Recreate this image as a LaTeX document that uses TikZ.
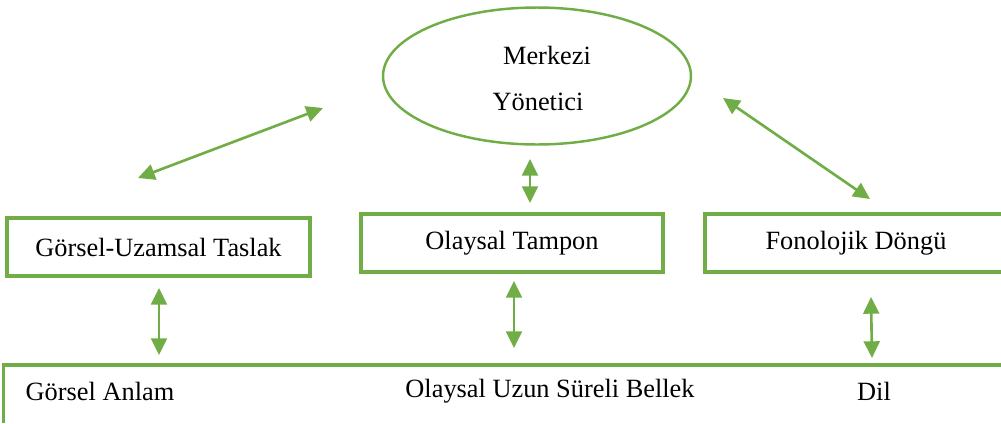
\documentclass[tikz,border=0pt]{standalone}
\usepackage{fontspec}
\setmainfont{Liberation Serif}
\usetikzlibrary{arrows.meta,shapes.geometric}
\definecolor{leafgreen}{RGB}{112,173,71}
\tikzset{
  box/.style={draw=leafgreen, line width=1.8pt, minimum width=#1, minimum height=1.16cm, inner sep=0pt},
  link/.style={leafgreen, line width=1.5pt, {Triangle[length=9.5pt,width=9pt]}-{Triangle[length=9.5pt,width=9pt]}},
  label/.style={inner sep=0pt, font=\fontsize{15}{18}\selectfont}
}

\begin{document}
\begin{tikzpicture}[x=0.02cm, y=-0.02cm]
\useasboundingbox (0,0) rectangle (1001,423);
% central executive
\node [ellipse, draw=leafgreen, line width=1.4pt, minimum width=6.16cm, minimum height=2.74cm] (exec) at (537,76) {};
\node [label] (merkezi) at (547,55) {Merkezi};
\node [label] (yonetici) at (538,102) {Yönetici};
% slave systems
\node [box=6.06cm] (sketch) at (158.5,247) {};
\node [label] at (sketch.center) {Görsel-Uzamsal Taslak};
\node [box=6.04cm] (buffer) at (512,243) {};
\node [label] at (buffer.center) {Olaysal Tampon};
\node [box=6.2cm] (loop) at (860,243) {};
\node [label] at (856,243) {Fonolojik Döngü};
% long-term memory
\draw [leafgreen, line width=1.8pt] (3.5,423) -- (3.5,365) -- (1001,365);
\node [label] (anlam) at (100,391) {Görsel Anlam};
\node [label] (bellek) at (550,391) {Olaysal Uzun Süreli Bellek};
\node [label] (dil) at (874,391) {Dil};
% arrow ends
\coordinate (a1) at (138,178);
\coordinate (b1) at (323,108);
\coordinate (a2) at (530,159);
\coordinate (b2) at (530,203);
\coordinate (a3) at (723,98);
\coordinate (b3) at (870,199);
\coordinate (a4) at (159,288);
\coordinate (b4) at (159,355);
\coordinate (a5) at (514,281);
\coordinate (b5) at (514,348);
\coordinate (a6) at (871,297);
\coordinate (b6) at (872,358);
\foreach \i in {1,...,6}
  \draw [link] (a\i) -- (b\i);
\end{tikzpicture}
\end{document}
